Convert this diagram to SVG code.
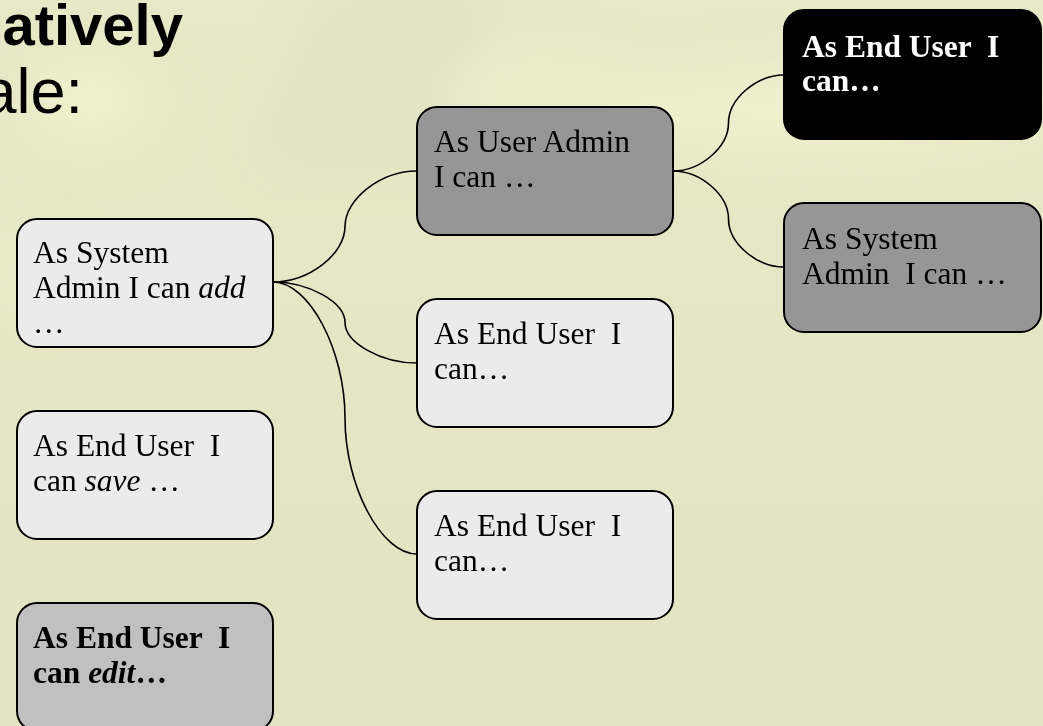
<svg xmlns="http://www.w3.org/2000/svg" width="1043" height="726" viewBox="0 0 1043 726">
<defs>
<filter id="blur" x="-50%" y="-50%" width="200%" height="200%"><feGaussianBlur stdDeviation="25"/></filter>
<linearGradient id="bg" x1="0" y1="0" x2="0" y2="1">
<stop offset="0" stop-color="#e6e8c6"/>
<stop offset="0.5" stop-color="#e5e7c4"/>
<stop offset="1" stop-color="#e2e3c1"/>
</linearGradient>
</defs>
<style>
.node{stroke:#000;stroke-width:2}
.light{fill:#ebebeb}
.gray{fill:#969696}
.silver{fill:#c0c0c0}
.black{fill:#000}
.t{font-family:"Liberation Serif","Times New Roman",serif;font-size:31.5px;fill:#000;white-space:pre}
.b{font-weight:bold}
.w{fill:#fff}
.conn{fill:none;stroke:#000;stroke-width:1.6}
.title{font-family:"Liberation Sans",Arial,sans-serif;fill:#000}
</style>
<g id="background">
<rect width="1043" height="726" fill="url(#bg)"/>
<g filter="url(#blur)">
<ellipse cx="820" cy="110" rx="230" ry="40" fill="#eff1cd"/>
<ellipse cx="520" cy="90" rx="120" ry="30" fill="#eef0cc"/>
<ellipse cx="90" cy="100" rx="60" ry="40" fill="#f1f3cc"/>
<polygon points="260,160 330,0 500,0 450,160" fill="#dedfc3" opacity="0.6"/>
<ellipse cx="20" cy="270" rx="40" ry="30" fill="#ecedca"/>
</g>
</g>
<g id="title">
<text class="title" x="183" y="45" font-size="58" font-weight="bold" text-anchor="end">atively</text>
<text class="title" x="83" y="113" font-size="63" text-anchor="end">ale:</text>
</g>
<g id="connectors">
<path class="conn" d="M273,282 C309,282 345,254.25 345,226.5 C345,198.75 381,171 417,171"/>
<path class="conn" d="M273,282 C309,282 345,302.25 345,322.5 C345,342.75 381,363 417,363"/>
<path class="conn" d="M273,282 C309,282 345,350 345,418 C345,486 381,554 417,554"/>
<path class="conn" d="M673,171 C700.75,171 728.5,147 728.5,123 C728.5,99 756.25,75 784,75"/>
<path class="conn" d="M673,171 C700.75,171 728.5,195 728.5,219 C728.5,243 756.25,267 784,267"/>
</g>
<g id="node-sysadmin-add">
<rect class="node light" x="17" y="219" width="256" height="128" rx="20"/>
<text class="t"><tspan x="33" y="263">As System</tspan><tspan x="33" y="298">Admin I can <tspan font-style="italic">add</tspan></tspan><tspan x="33" y="333">…</tspan></text>
</g>
<g id="node-enduser-save">
<rect class="node light" x="17" y="411" width="256" height="128" rx="20"/>
<text class="t"><tspan x="33" y="456">As End User  I</tspan><tspan x="33" y="491">can <tspan font-style="italic">save</tspan> …</tspan></text>
</g>
<g id="node-enduser-edit">
<rect class="node silver" x="17" y="603" width="256" height="128" rx="20"/>
<text class="t b"><tspan x="33" y="648">As End User  I</tspan><tspan x="33" y="683">can <tspan font-style="italic">edit</tspan>…</tspan></text>
</g>
<g id="node-useradmin">
<rect class="node gray" x="417" y="107" width="256" height="128" rx="20"/>
<text class="t"><tspan x="434" y="152">As User Admin</tspan><tspan x="434" y="187">I can …</tspan></text>
</g>
<g id="node-enduser-mid">
<rect class="node light" x="417" y="299" width="256" height="128" rx="20"/>
<text class="t"><tspan x="434" y="344">As End User  I</tspan><tspan x="434" y="379">can…</tspan></text>
</g>
<g id="node-enduser-low">
<rect class="node light" x="417" y="491" width="256" height="128" rx="20"/>
<text class="t"><tspan x="434" y="536">As End User  I</tspan><tspan x="434" y="571">can…</tspan></text>
</g>
<g id="node-enduser-black">
<rect class="node black" x="784" y="10" width="257" height="129" rx="20"/>
<text class="t b w"><tspan x="802" y="57">As End User  I</tspan><tspan x="802" y="91">can…</tspan></text>
</g>
<g id="node-sysadmin-gray">
<rect class="node gray" x="784" y="203" width="257" height="129" rx="20"/>
<text class="t"><tspan x="802" y="249">As System</tspan><tspan x="802" y="284">Admin  I can …</tspan></text>
</g>
</svg>
